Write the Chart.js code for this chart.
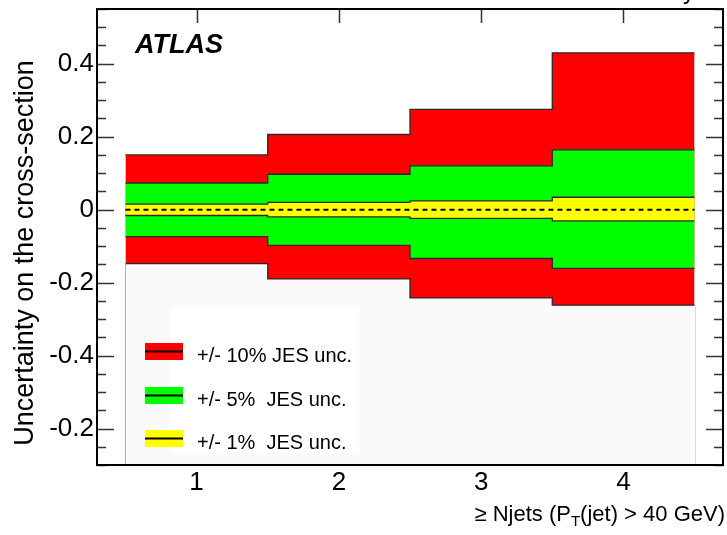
<!DOCTYPE html>
<html>
<head>
<meta charset="utf-8">
<title>JES uncertainty vs jet multiplicity</title>
<style>
  html, body { margin: 0; padding: 0; background: #ffffff; }
  #wrap { width: 727px; height: 535px; position: relative; }
</style>
<script src="https://cdn.jsdelivr.net/npm/chart.js@4.4.1/dist/chart.umd.min.js"></script>
</head>
<body>
<div id="wrap"><canvas id="c" width="727" height="535"></canvas></div>
<script>
// Jet multiplicity bins (>= N jets) and their edges
const categories = [1, 2, 3, 4];
const binEdges = [0.5, 1.5, 2.5, 3.5, 4.5];

// Relative uncertainty on the cross-section for each JES variation
const jes10Up   = [0.150, 0.206, 0.275, 0.430];
const jes10Down = [-0.148, -0.190, -0.242, -0.262];
const jes5Up    = [0.073, 0.097, 0.120, 0.164];
const jes5Down  = [-0.074, -0.098, -0.134, -0.161];
const jes1Up    = [0.015, 0.020, 0.024, 0.034];
const jes1Down  = [-0.016, -0.020, -0.024, -0.031];
const nominal   = [0, 0, 0, 0];

// Axis ticks
const xTickValues = [1, 2, 3, 4];
const yTickValues = [-0.6, -0.4, -0.2, 0, 0.2, 0.4];
const yTickLabels = ['-0.2', '-0.4', '-0.2', '0', '0.2', '0.4'];

// Legend entries
const legendLabels = ['+/- 10% JES unc.', '+/- 5%  JES unc.', '+/- 1%  JES unc.'];
const legendColors = ['#ff0000', '#00ff00', '#ffff00'];

const FONT = '"Liberation Sans", Arial, Helvetica, sans-serif';

// histogram-style step outline over the bin edges
function stepPoints(vals) {
  const pts = [];
  vals.forEach((v, i) => {
    pts.push({ x: binEdges[i], y: v });
    pts.push({ x: binEdges[i + 1], y: v });
  });
  return pts;
}

const edgeColor = '#2a2a2a';

function band(vals, order, fill, bg) {
  return {
    data: stepPoints(vals),
    order: order,
    borderColor: edgeColor,
    borderWidth: 1.3,
    backgroundColor: bg || 'transparent',
    fill: fill,
    pointRadius: 0,
    tension: 0
  };
}

const datasets = [
  {
    data: stepPoints(nominal), order: 0, borderColor: '#000000', borderWidth: 2,
    borderDash: [5, 4], fill: false, pointRadius: 0, tension: 0
  },
  band(jes1Up, 1, 2, '#ffff00'),
  band(jes1Down, 2, false),
  band(jes5Up, 3, 4, '#00ff00'),
  band(jes5Down, 4, false),
  band(jes10Up, 5, 6, '#ff0000'),
  band(jes10Down, 6, 'start', '#fafafa')
];

// ROOT-style frame with inward ticks
const framePlugin = {
  id: 'framePlugin',
  beforeDraw(chart) {
    const { ctx, chartArea: a, scales: { x, y } } = chart;
    ctx.save();
    ctx.strokeStyle = '#333333';
    ctx.lineWidth = 1.5;
    ctx.beginPath();
    // y ticks: major every 0.2, minor every 0.05, on both sides
    for (let k = -14; k <= 11; k++) {
      const v = k * 0.05;
      const py = Math.round(y.getPixelForValue(v)) + 0.5;
      const major = yTickValues.some(t => Math.abs(t - v) < 1e-6);
      const len = major ? 17 : 9;
      ctx.moveTo(a.left, py); ctx.lineTo(a.left + len, py);
      ctx.moveTo(a.right, py); ctx.lineTo(a.right - len, py);
    }
    // x ticks at bin centres, top and bottom
    xTickValues.forEach(v => {
      const px = Math.round(x.getPixelForValue(v)) + 0.5;
      ctx.moveTo(px, a.top); ctx.lineTo(px, a.top + 14);
      ctx.moveTo(px, a.bottom); ctx.lineTo(px, a.bottom - 14);
    });
    ctx.stroke();
    ctx.restore();
  },
  afterDatasetsDraw(chart) {
    const { ctx, chartArea: a, scales: { x, y } } = chart;
    ctx.save();
    // edges of the filled area below the lowest band
    ctx.lineWidth = 1;
    ctx.strokeStyle = '#c9ad66';
    ctx.beginPath();
    const lx = Math.round(x.getPixelForValue(binEdges[0])) + 0.5;
    ctx.moveTo(lx, y.getPixelForValue(jes10Down[0]));
    ctx.lineTo(lx, a.bottom);
    ctx.stroke();
    ctx.strokeStyle = '#f6cfc4';
    ctx.beginPath();
    const rx = Math.round(x.getPixelForValue(binEdges[4])) + 0.5;
    ctx.moveTo(rx, y.getPixelForValue(jes10Down[3]));
    ctx.lineTo(rx, a.bottom);
    ctx.stroke();

    // legend
    ctx.fillStyle = '#ffffff';
    ctx.fillRect(170, 307, 189, 146);
    const rows = [351.5, 395.5, 438.5];
    rows.forEach((cy, i) => {
      ctx.fillStyle = legendColors[i];
      ctx.fillRect(145, cy - 8.5, 38, 17);
      ctx.fillStyle = '#000000';
      ctx.fillRect(145, cy - 1, 38, 2);
      ctx.font = '20px ' + FONT;
      ctx.textAlign = 'left';
      ctx.textBaseline = 'alphabetic';
      ctx.fillText(legendLabels[i], 197, cy + 10.5);
    });
    ctx.restore();
  },
  afterDraw(chart) {
    const { ctx, chartArea: a } = chart;
    ctx.save();
    ctx.strokeStyle = '#000000';
    ctx.lineWidth = 2;
    ctx.strokeRect(a.left, a.top, a.right - a.left, a.bottom - a.top);

    // experiment label
    ctx.fillStyle = '#000000';
    ctx.font = 'italic bold 27px ' + FONT;
    ctx.textAlign = 'left';
    ctx.textBaseline = 'alphabetic';
    ctx.fillText('ATLAS', 135, 53);

    // y axis title
    ctx.save();
    ctx.translate(33, 253);
    ctx.rotate(-Math.PI / 2);
    ctx.font = '27px ' + FONT;
    ctx.textAlign = 'center';
    ctx.fillText('Uncertainty on the cross-section', 0, 0);
    ctx.restore();

    // x axis title with subscript, right aligned
    const main = '22px ' + FONT, sub = '15px ' + FONT;
    const p1 = '\u2265 Njets (P', p2 = 'T', p3 = '(jet) > 40 GeV)';
    ctx.font = main;
    const w1 = ctx.measureText(p1).width, w3 = ctx.measureText(p3).width;
    ctx.font = sub;
    const w2 = ctx.measureText(p2).width;
    let tx = 725 - (w1 + w2 + w3);
    const base = 521;
    ctx.font = main; ctx.fillText(p1, tx, base); tx += w1;
    ctx.font = sub; ctx.fillText(p2, tx, base + 5); tx += w2;
    ctx.font = main; ctx.fillText(p3, tx, base);

    // clipped heading fragment at the top edge
    ctx.font = '24px ' + FONT;
    ctx.fillText('y', 683, -1);
    ctx.restore();
  }
};

new Chart(document.getElementById('c'), {
  type: 'line',
  data: { datasets: datasets },
  options: {
    responsive: false,
    animation: false,
    events: [],
    layout: { padding: { left: 0, right: 4, top: 9, bottom: 0 } },
    plugins: {
      legend: { display: false },
      tooltip: { enabled: false },
      filler: { drawTime: 'beforeDatasetsDraw', propagate: false }
    },
    scales: {
      x: {
        type: 'linear',
        min: 0.3, max: 4.7,
        afterBuildTicks: s => { s.ticks = xTickValues.map(v => ({ value: v })); },
        afterFit: s => { s.height = 70; s.paddingLeft = 0; s.paddingRight = 0; },
        grid: { display: false, drawTicks: false },
        border: { display: false },
        ticks: {
          color: '#000000',
          padding: 2,
          maxRotation: 0,
          font: { family: FONT, size: 26 },
          callback: v => String(v)
        }
      },
      y: {
        type: 'linear',
        min: -0.7, max: 0.55,
        afterBuildTicks: s => { s.ticks = yTickValues.map(v => ({ value: v })); },
        afterFit: s => { s.width = 97; s.paddingTop = 0; s.paddingBottom = 0; },
        grid: { display: false, drawTicks: false },
        border: { display: false },
        ticks: {
          color: '#000000',
          padding: 3,
          font: { family: FONT, size: 26 },
          callback: (v, i) => yTickLabels[i]
        }
      }
    }
  },
  plugins: [framePlugin]
});
</script>
</body>
</html>
